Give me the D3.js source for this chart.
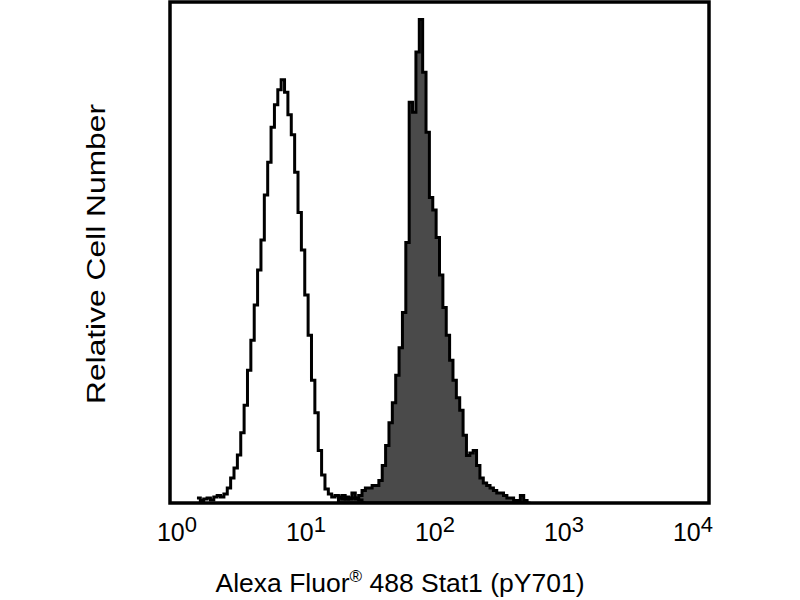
<!DOCTYPE html>
<html>
<head>
<meta charset="utf-8">
<script src="https://cdn.jsdelivr.net/npm/d3@7.9.0/dist/d3.min.js"></script>
<style>
  body { margin: 0; background: #fff; }
  text { font-family: Arial, "Liberation Sans", sans-serif; fill: #000; }
</style>
</head>
<body>
<div id="chart"></div>
<script>
const width = 800;
const height = 600;

// log axis: 4 decades split into 160 channels
const decades = [1, 10, 100, 1000, 10000];
const tickExponents = ['0', '1', '2', '3', '4'];
const nChannels = 160;

// unstained control (outline only), first channel = 8
const controlFirstChannel = 8;
const controlCounts = [1, 0.5, 0.8, 1, 0.6, 1.2, 1.5, 1.2, 1.8, 3, 5, 7, 9.6, 14, 19.5, 26.5,
    32.5, 39.5, 46.5, 52.5, 61.5, 68, 75, 79.5, 82.5, 84.5, 82, 77.5, 73.5, 66, 58, 50.5,
    41.5, 33.5, 24.5, 18, 10.5, 5.6, 2.8, 1.8, 1.2, 1.5, 1.2, 0.8, 1.2, 0.8, 1, 0.8, 0.6, 0];

// stimulated sample (filled), first channel = 50
const sampleFirstChannel = 50;
const sampleCounts = [1, 1.5, 0.8, 1, 2, 1, 1.5, 2.5, 3, 3, 3.5, 3.5, 4.5, 7.5, 11.5, 16,
    20, 25.5, 31, 38, 52, 80, 78, 90, 96.5, 86, 74, 61, 58.5, 53, 45.5, 39, 33.5, 28.5,
    24.5, 21, 18.5, 13.5, 9.5, 10, 10.5, 7.5, 5, 4, 3.5, 3, 2.5, 2, 2, 1.5, 1, 1, 0.5,
    0.5, 1.5, 0.5, 0];

const xTitle = 'Alexa Fluor';
const xTitleRest = ' 488 Stat1 (pY701)';
const yTitle = 'Relative Cell Number';

const plot = { left: 170, right: 709, top: 2, bottom: 503 };

const svg = d3.select('#chart')
    .append('svg')
    .attr('width', width)
    .attr('height', height);

const xScale = d3.scaleLog()
    .domain([1, 10000])
    .range([plot.left, plot.right]);

// tick labels sit a bit inside the frame ends in the original
const labelScale = d3.scaleLog()
    .domain([1, 10000])
    .range([177, 693]);

const yScale = d3.scaleLinear()
    .domain([0, 100])
    .range([plot.bottom, plot.top]);

// channel edge value
const edge = i => Math.pow(10, i * 4 / nChannels);

function toSteps(first, counts) {
    const pts = counts.map((c, k) => ({ x: edge(first + k), y: c }));
    pts.push({ x: edge(first + counts.length), y: counts[counts.length - 1] });
    return pts;
}

svg.append('defs')
    .append('clipPath')
    .attr('id', 'clip')
    .append('rect')
    .attr('x', plot.left)
    .attr('y', plot.top)
    .attr('width', plot.right - plot.left)
    .attr('height', plot.bottom - plot.top);

const g = svg.append('g').attr('clip-path', 'url(#clip)');

const area = d3.area()
    .x(d => xScale(d.x))
    .y0(yScale(0))
    .y1(d => yScale(d.y))
    .curve(d3.curveStepAfter);

const line = d3.line()
    .x(d => xScale(d.x))
    .y(d => yScale(d.y))
    .curve(d3.curveStepAfter);

// filled sample histogram
g.append('path')
    .datum(toSteps(sampleFirstChannel, sampleCounts))
    .attr('d', area)
    .attr('fill', '#4a4a4a')
    .attr('stroke', '#000')
    .attr('stroke-width', 3);

// control outline
g.append('path')
    .datum(toSteps(controlFirstChannel, controlCounts))
    .attr('d', line)
    .attr('fill', 'none')
    .attr('stroke', '#000')
    .attr('stroke-width', 3);

// frame
svg.append('rect')
    .attr('x', plot.left)
    .attr('y', plot.top)
    .attr('width', plot.right - plot.left)
    .attr('height', plot.bottom - plot.top)
    .attr('fill', 'none')
    .attr('stroke', '#000')
    .attr('stroke-width', 3.5);

// tick labels 10^n
const ticks = svg.append('g').attr('class', 'x-ticks');
decades.forEach((v, i) => {
    const t = ticks.append('text')
        .attr('x', labelScale(v))
        .attr('y', 541)
        .attr('text-anchor', 'middle')
        .style('font-size', '25px');
    t.append('tspan').text('10');
    t.append('tspan')
        .attr('dy', -9)
        .style('font-size', '22px')
        .text(tickExponents[i]);
});

// axis titles
const xt = svg.append('text')
    .attr('x', 400)
    .attr('y', 592)
    .attr('text-anchor', 'middle')
    .style('font-size', '26.5px');
xt.append('tspan').text(xTitle);
xt.append('tspan').attr('dy', -10).style('font-size', '17px').text('®');
xt.append('tspan').attr('dy', 10).text(xTitleRest);

svg.append('text')
    .attr('text-anchor', 'middle')
    .attr('transform', 'translate(105, 254) rotate(-90)')
    .attr('textLength', 300)
    .attr('lengthAdjust', 'spacingAndGlyphs')
    .style('font-size', '26px')
    .text(yTitle);
</script>
</body>
</html>
